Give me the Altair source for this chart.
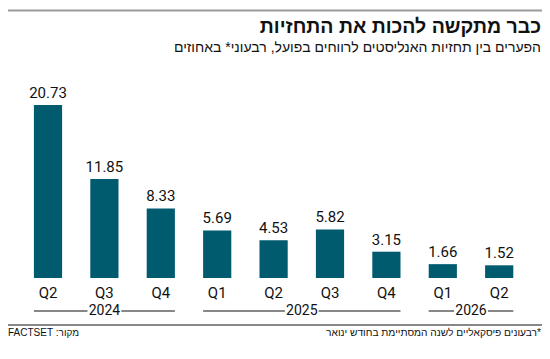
import altair as alt
import pandas as pd

quarters = ["Q2", "Q3", "Q4", "Q1", "Q2", "Q3", "Q4", "Q1", "Q2"]
values = [20.73, 11.85, 8.33, 5.69, 4.53, 5.82, 3.15, 1.66, 1.52]
years = ["2024", "2025", "2026"]
year_first = [0, 3, 7]
year_last = [2, 6, 8]

title_text = "כבר מתקשה להכות את התחזיות"
subtitle_text = "הפערים בין תחזיות האנליסטים לרווחים בפועל, רבעוני* באחוזים"
note_text = "*רבעונים פיסקאליים לשנה המסתיימת בחודש ינואר"
source_text = "מקור: FACTSET"

RLE, PDF = "\u202B", "\u202C"
NUMFONT = "Roboto"
HEBFONT = "Liberation Sans"
BAR = "#005b6f"
INK = "#111111"

bars_df = pd.DataFrame({"i": list(range(len(values))), "q": quarters, "v": values})
years_df = pd.DataFrame({"year": years, "a": year_first, "b": year_last})

xs = alt.Scale(domain=[-0.5, 8.5], range=[11.8, 519.4], nice=False, zero=False)
ys = alt.Scale(domain=[0, 30], range=[270, 19.5], nice=False)

base = alt.Chart(bars_df)

bars = base.transform_calculate(xl="datum.i - 0.25", xr="datum.i + 0.25").mark_bar(color=BAR).encode(
    x=alt.X("xl:Q", scale=xs, axis=None),
    x2="xr:Q",
    y=alt.Y("v:Q", scale=ys, axis=None),
    y2=alt.datum(0),
)

vals = base.transform_calculate(lbl="format(datum.v, '.2f')").mark_text(
    font=NUMFONT, fontSize=15, color=INK, baseline="alphabetic", dy=-7
).encode(x=alt.X("i:Q", scale=xs, axis=None), y=alt.Y("v:Q", scale=ys, axis=None), text="lbl:N")

qlab = base.mark_text(font=NUMFONT, fontSize=15, color=INK, baseline="middle").encode(
    x=alt.X("i:Q", scale=xs, axis=None), y=alt.value(284.5), text="q:N"
)

ybase = alt.Chart(years_df).transform_calculate(
    xa="datum.a - 0.25", xb="datum.b + 0.25", m="(datum.a + datum.b) / 2",
    ma="(datum.a + datum.b) / 2 - 0.3", mb="(datum.a + datum.b) / 2 + 0.3"
)
yrule = ybase.mark_rule(color=INK, strokeWidth=1.2).encode(
    x=alt.X("xa:Q", scale=xs, axis=None), x2="xb:Q", y=alt.value(303)
)
ygap = ybase.mark_rect(color="white").encode(
    x=alt.X("ma:Q", scale=xs, axis=None), x2="mb:Q", y=alt.value(296), y2=alt.value(310)
)
ytext = ybase.mark_text(font=NUMFONT, fontSize=14, color=INK, baseline="middle").encode(
    x=alt.X("m:Q", scale=xs, axis=None), y=alt.value(302.5), text="year:N"
)

deco = pd.DataFrame({"k": [0]})
dbase = alt.Chart(deco)
top_line = dbase.mark_rule(color="#9a9a9a", strokeWidth=2).encode(
    x=alt.value(0), x2=alt.value(534), y=alt.value(2.5)
)
bottom_line = dbase.mark_rule(color=INK, strokeWidth=1).encode(
    x=alt.value(0), x2=alt.value(534), y=alt.value(317)
)
title = dbase.mark_text(font=HEBFONT, fontSize=19.5, fontWeight="bold", color=INK, align="right",
                        baseline="alphabetic").encode(
    x=alt.value(533), y=alt.value(25), text=alt.value(RLE + title_text + PDF)
)
subtitle = dbase.mark_text(font=HEBFONT, fontSize=14, color=INK, align="right",
                           baseline="alphabetic").encode(
    x=alt.value(533), y=alt.value(44), text=alt.value(RLE + subtitle_text + PDF)
)
note = dbase.mark_text(font=HEBFONT, fontSize=10.2, color=INK, align="right",
                       baseline="alphabetic").encode(
    x=alt.value(533), y=alt.value(328), text=alt.value(RLE + note_text + PDF)
)
source = dbase.mark_text(font=HEBFONT, fontSize=10, color=INK, align="left",
                         baseline="alphabetic").encode(
    x=alt.value(0), y=alt.value(328), text=alt.value(RLE + source_text + PDF)
)

chart = alt.layer(
    top_line, bottom_line, title, subtitle, bars, vals, qlab, yrule, ygap, ytext, note, source
).properties(
    width=534, height=340, autosize=alt.AutoSizeParams(type="none"), padding=0
).configure_view(stroke=None)

chart.save("out.html", embed_options={"renderer": "svg", "actions": False})
